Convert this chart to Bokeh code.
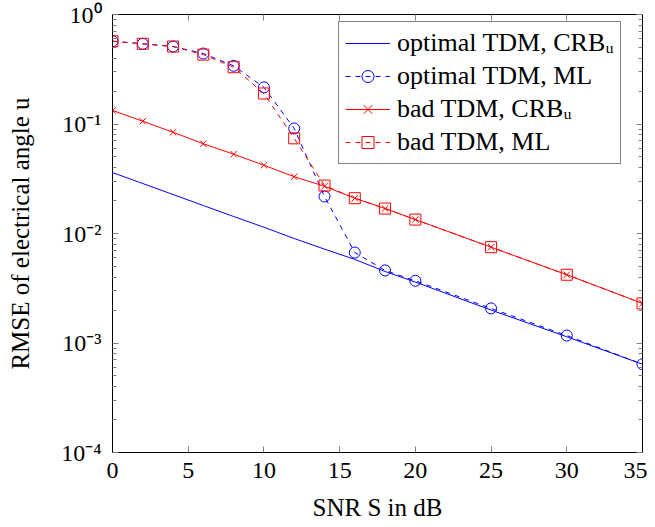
from bokeh.plotting import figure
from bokeh.models import (FixedTicker, CustomJSTickFormatter, LinearAxis, LogAxis,
                          Legend, Range1d)
from bokeh.embed import file_html
from bokeh.resources import INLINE

snr = [0, 2, 4, 6, 8, 10, 12, 14, 16, 18, 20, 25, 30, 35]
opt_crb = [0.036, 0.0286, 0.0227, 0.018, 0.0143, 0.0114, 0.0090, 0.0072,
           0.0058, 0.0045, 0.0036, 0.0020, 0.00114, 0.00064]
opt_ml = [0.57, 0.54, 0.51, 0.44, 0.34, 0.216, 0.091, 0.0218, 0.0067,
          0.0046, 0.0037, 0.00207, 0.00117, 0.00064]
bad_crb = [0.133, 0.106, 0.084, 0.066, 0.053, 0.042, 0.033, 0.027, 0.021,
           0.0169, 0.0134, 0.0075, 0.0042, 0.0023]
bad_ml = [0.57, 0.54, 0.51, 0.43, 0.33, 0.19, 0.074, 0.0274, 0.021,
          0.0169, 0.0134, 0.0075, 0.0042, 0.0023]

x_ticks = [0, 5, 10, 15, 20, 25, 30, 35]
y_ticks = [1e-4, 1e-3, 1e-2, 1e-1, 1e0]
y_minor = [k * 10.0 ** e for e in range(-4, 0) for k in range(2, 10)]

FONT = "Liberation Serif"
BLUE = "#0000ff"
RED = "#ff0000"

p = figure(frame_width=530, frame_height=438, y_axis_type="log",
           x_range=Range1d(0, 35), y_range=Range1d(1e-4, 1e0),
           output_backend="svg", toolbar_location=None,
           min_border_left=112, min_border_top=14, min_border_right=5,
           min_border_bottom=74)
p.xgrid.visible = False
p.ygrid.visible = False
p.outline_line_color = "black"
p.outline_line_width = 1
p.background_fill_color = "white"
p.border_fill_color = "white"

sup = CustomJSTickFormatter(code="""
const m = {'-':'\u207b','0':'\u2070','1':'\u00b9','2':'\u00b2','3':'\u00b3','4':'\u2074'};
const e = String(Math.round(Math.log10(tick)));
let s = '';
for (const c of e) s += m[c];
return '10' + s;
""")

xt = FixedTicker(ticks=x_ticks)
yt = FixedTicker(ticks=y_ticks, minor_ticks=y_minor)

def style_axis(ax, labels=True):
    ax.axis_line_color = "black"
    ax.major_tick_line_color = "#808080"
    ax.minor_tick_line_color = "#808080"
    ax.major_tick_in = 6
    ax.major_tick_out = 0
    ax.minor_tick_in = 4
    ax.minor_tick_out = 0
    ax.major_label_text_font = FONT
    ax.major_label_text_font_size = "24px"
    ax.major_label_text_color = "black"
    ax.axis_label_text_font = FONT
    ax.axis_label_text_font_size = "25px"
    ax.axis_label_text_font_style = "normal"
    ax.axis_label_text_color = "black"
    if not labels:
        ax.major_label_text_font_size = "0px"
        ax.major_label_text_alpha = 0

p.xaxis.ticker = xt
p.yaxis.ticker = yt
p.yaxis.formatter = sup
p.xaxis.axis_label = "SNR S in dB"
p.yaxis.axis_label = "RMSE of electrical angle u"
for ax in p.xaxis + p.yaxis:
    style_axis(ax)
p.xaxis.minor_tick_in = 0
p.xaxis.major_label_standoff = 10
p.xaxis.axis_label_standoff = 13
p.yaxis.major_label_standoff = 11
p.yaxis.axis_label_standoff = 24

top = LinearAxis(ticker=FixedTicker(ticks=x_ticks), major_label_text_font_size="0px")
style_axis(top, labels=False)
top.minor_tick_in = 0
right = LogAxis(ticker=FixedTicker(ticks=y_ticks, minor_ticks=y_minor),
                major_label_text_font_size="0px")
style_axis(right, labels=False)
p.add_layout(top, "above")
p.add_layout(right, "right")

l1 = p.line(snr, opt_crb, line_color=BLUE, line_width=1)
l2 = p.line(snr, opt_ml, line_color=BLUE, line_width=1, line_dash="5 5")
m2 = p.scatter(snr, opt_ml, marker="circle", size=11, line_color=BLUE,
               fill_color=None, line_width=1)
l3 = p.line(snr, bad_crb, line_color=RED, line_width=1)
m3 = p.scatter(snr, bad_crb, marker="x", size=9, line_color=RED, line_width=1)
l4 = p.line(snr, bad_ml, line_color=RED, line_width=1, line_dash="5 5")
m4 = p.scatter(snr, bad_ml, marker="square", size=11, line_color=RED,
               fill_color=None, line_width=1)

legend = Legend(items=[
    ("optimal TDM, CRB\u1d64", [l1]),
    ("optimal TDM, ML", [l2, m2]),
    ("bad TDM, CRB\u1d64", [l3, m3]),
    ("bad TDM, ML", [l4, m4]),
], location=(226, 288))
legend.label_text_font = FONT
legend.label_text_font_size = "26px"
legend.label_text_color = "black"
legend.label_standoff = 7
legend.glyph_width = 45
legend.glyph_height = 30
legend.label_height = 30
legend.spacing = 3
legend.padding = 6
legend.margin = 0
legend.border_line_color = "black"
legend.border_line_width = 1
legend.background_fill_alpha = 1
p.add_layout(legend)

open("out.html", "w").write(file_html(p, INLINE))
